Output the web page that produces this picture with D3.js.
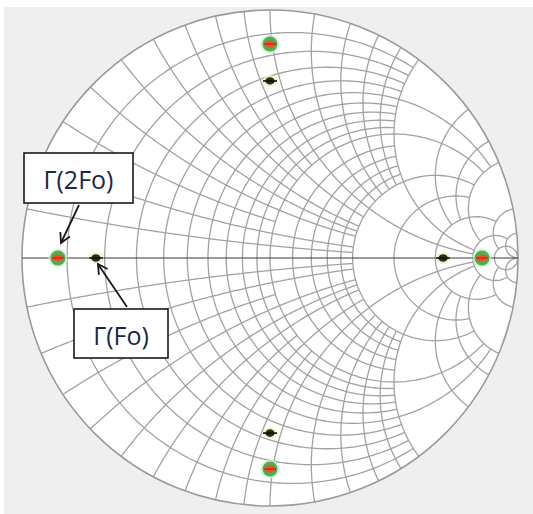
<!DOCTYPE html>
<html>
<head>
<meta charset="utf-8">
<script src="https://cdn.jsdelivr.net/npm/d3@7"></script>
<style>
  html, body { margin: 0; padding: 0; background: #ffffff; }
  svg { display: block; }
</style>
</head>
<body>
<svg id="chart" width="533" height="514"></svg>
<script>
// Normalised resistance circles, and how far (|x|) each one is drawn
const resistanceValues = [0.1, 0.2, 0.3, 0.4, 0.5, 0.6, 0.7, 0.8, 0.9, 1.0, 1.2, 1.4, 1.6, 1.8, 2.0, 3.0, 5.0, 10, 20];
const resistanceReach  = [2,   2,   2,   2,   5,   2,   2,   2,   2,   5,   2,   2,   2,   2,   5,   5,   10,  20, Infinity];

// Normalised reactance arcs, and how far (r) each one is drawn
const reactanceValues = [0.1, 0.2, 0.3, 0.4, 0.5, 0.6, 0.7, 0.8, 0.9, 1.0, 1.2, 1.4, 1.6, 1.8, 2.0, 3.0, 4.0, 5.0, 10, 20];
const reactanceReach  = [2,   2,   1,   2,   2,   2,   1,   2,   1,   10,  2,   2,   2,   2,   10,  5,   5,   10,  20, Infinity];

// Reflection coefficients (magnitude, phase in degrees)
const phaseDeg      = [180, 90, 0, -90];
const magnitudeFo   = [0.702, 0.714, 0.698, 0.706];
const magnitude2Fo  = [0.855, 0.863, 0.855, 0.851];

const labelTexts = ["\u0393(2Fo)", "\u0393(Fo)"];

const svg = d3.select("#chart");
const W = 533, H = 514;

const xs = d3.scaleLinear().domain([-1, 1]).range([22, 518]);
const ys = d3.scaleLinear().domain([-1, 1]).range([506, 10]);

// z = r + jx  ->  Gamma = (z - 1) / (z + 1)
function gamma(r, x) {
  const den = (r + 1) * (r + 1) + x * x;
  return [(r * r - 1 + x * x) / den, (2 * x) / den];
}

const line = d3.line().x(d => xs(d[0])).y(d => ys(d[1]));
const N = 260;

function sampleRange(a, b, f) {
  const ua = Math.atan(a), ub = Math.atan(b);
  const pts = [];
  for (let i = 0; i <= N; i++) {
    const u = ua + (ub - ua) * i / N;
    const v = Math.abs(u - Math.PI / 2) < 1e-12 ? 1e9 : (Math.abs(u + Math.PI / 2) < 1e-12 ? -1e9 : Math.tan(u));
    pts.push(f(v));
  }
  return pts;
}

// background outside the chart
svg.append("rect").attr("x", 0).attr("y", 0).attr("width", W).attr("height", H).attr("fill", "#ffffff");
svg.append("rect").attr("x", 4).attr("y", 7).attr("width", W - 4).attr("height", H - 7).attr("fill", "#efefef");

// chart face
svg.append("ellipse")
  .attr("cx", xs(0)).attr("cy", ys(0))
  .attr("rx", (xs(1) - xs(-1)) / 2).attr("ry", (ys(-1) - ys(1)) / 2)
  .attr("fill", "#ffffff");

const grid = svg.append("g")
  .attr("fill", "none")
  .attr("stroke", "#a2a2a2")
  .attr("stroke-width", 1.3);

// constant-resistance circles
resistanceValues.forEach((r, i) => {
  const X = resistanceReach[i];
  grid.append("path").attr("d", line(sampleRange(-X, X, x => gamma(r, x))));
});

// constant-reactance arcs (both signs)
reactanceValues.forEach((x, i) => {
  const R = reactanceReach[i];
  [1, -1].forEach(s => {
    grid.append("path").attr("d", line(sampleRange(0, R, r => gamma(r, s * x))));
  });
});

// outer boundary
svg.append("ellipse")
  .attr("cx", xs(0)).attr("cy", ys(0))
  .attr("rx", (xs(1) - xs(-1)) / 2).attr("ry", (ys(-1) - ys(1)) / 2)
  .attr("fill", "none").attr("stroke", "#9a9a9a").attr("stroke-width", 1.6);

// real axis
svg.append("line")
  .attr("x1", xs(-1)).attr("x2", xs(1))
  .attr("y1", ys(0)).attr("y2", ys(0))
  .attr("stroke", "#3a3a3a").attr("stroke-width", 1.1);

// markers
function polar(m, deg) {
  const a = deg * Math.PI / 180;
  return [xs(m * Math.cos(a)), ys(m * Math.sin(a))];
}
const pts2Fo = magnitude2Fo.map((m, i) => polar(m, phaseDeg[i]));
const ptsFo  = magnitudeFo.map((m, i) => polar(m, phaseDeg[i]));

const g2 = svg.append("g");
pts2Fo.forEach(([px, py]) => {
  g2.append("circle").attr("cx", px).attr("cy", py).attr("r", 9.5).attr("fill", "#cfeccf").attr("opacity", 0.8);
  g2.append("circle").attr("cx", px).attr("cy", py).attr("r", 7.5).attr("fill", "#4fae4f");
  g2.append("ellipse").attr("cx", px).attr("cy", py).attr("rx", 5.5).attr("ry", 3.6).attr("fill", "#e8532b");
  g2.append("line").attr("x1", px - 6).attr("x2", px + 6).attr("y1", py).attr("y2", py)
    .attr("stroke", "#c8281a").attr("stroke-width", 1.4);
});

const g1 = svg.append("g");
ptsFo.forEach(([px, py]) => {
  g1.append("ellipse").attr("cx", px).attr("cy", py).attr("rx", 7.5).attr("ry", 6).attr("fill", "#f3f3c4").attr("opacity", 0.8);
  g1.append("ellipse").attr("cx", px).attr("cy", py).attr("rx", 4.6).attr("ry", 3.8).attr("fill", "#2e2e16");
  g1.append("line").attr("x1", px - 7).attr("x2", px + 7).attr("y1", py).attr("y2", py)
    .attr("stroke", "#111111").attr("stroke-width", 1.6);
});

// annotation boxes with arrows
const notes = [
  { text: labelTexts[0], box: [24, 153, 109, 50], from: [79, 205], target: pts2Fo[0], off: [3, -15] },
  { text: labelTexts[1], box: [74, 309, 94, 49], from: [127, 307], target: ptsFo[0], off: [2, 6] }
];

notes.forEach(n => {
  const [bx, by, bw, bh] = n.box;
  svg.append("rect").attr("x", bx).attr("y", by).attr("width", bw).attr("height", bh)
    .attr("fill", "#ffffff").attr("stroke", "#1a1a1a").attr("stroke-width", 1.6);
  svg.append("text").attr("x", bx + bw / 2).attr("y", by + bh / 2 + 1)
    .attr("text-anchor", "middle").attr("dominant-baseline", "central")
    .attr("font-family", "'Open Sans', 'DejaVu Sans', sans-serif")
    .attr("font-size", 25).attr("fill", "#1c2844")
    .text(n.text);

  const ex = n.target[0] + n.off[0], ey = n.target[1] + n.off[1];
  const [sx, sy] = n.from;
  svg.append("line").attr("x1", sx).attr("y1", sy).attr("x2", ex).attr("y2", ey)
    .attr("stroke", "#1a1a1a").attr("stroke-width", 1.8);
  const ang = Math.atan2(ey - sy, ex - sx);
  const L = 11, spread = 0.5;
  const head = [
    [ex - L * Math.cos(ang - spread), ey - L * Math.sin(ang - spread)],
    [ex, ey],
    [ex - L * Math.cos(ang + spread), ey - L * Math.sin(ang + spread)]
  ];
  svg.append("path").attr("d", d3.line()(head))
    .attr("fill", "none").attr("stroke", "#1a1a1a").attr("stroke-width", 1.8)
    .attr("stroke-linejoin", "miter");
});
</script>
</body>
</html>
